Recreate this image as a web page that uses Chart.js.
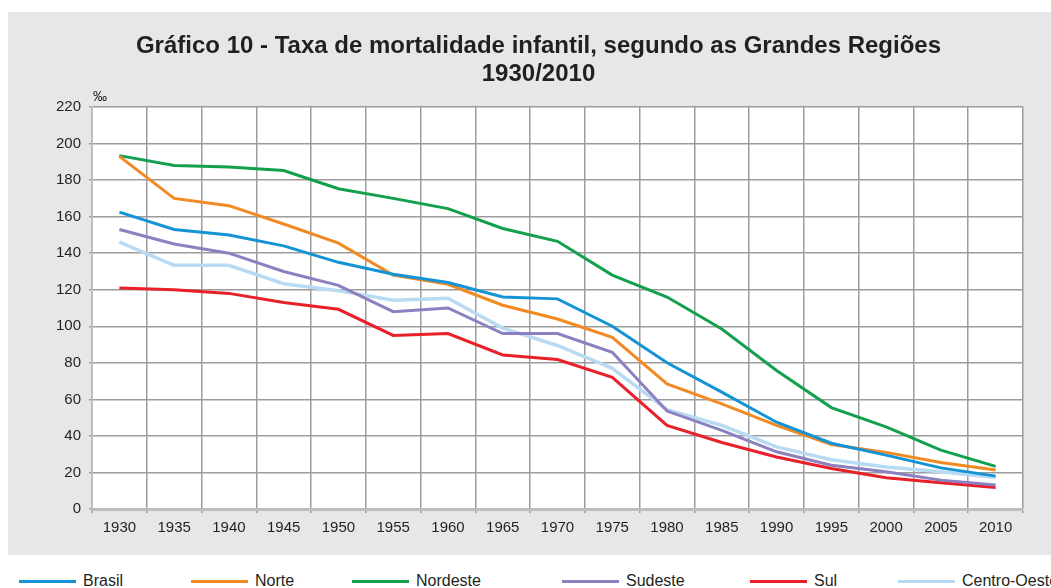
<!DOCTYPE html>
<html>
<head>
<meta charset="utf-8">
<script src="https://cdn.jsdelivr.net/npm/chart.js@4.4.1/dist/chart.umd.min.js"></script>
<style>
body{margin:0;background:#fff;overflow:hidden;width:1051px;height:588px;position:relative;font-family:"Liberation Sans",Arial,sans-serif;}
#panel{position:absolute;left:8px;top:12px;width:1061px;height:543px;background:#e6e7e8;}
.item{position:absolute;top:571px;height:20px;display:flex;align-items:center;font-size:16px;color:#231f20;white-space:nowrap;}
.item .sw{display:inline-block;width:57px;height:3px;margin-right:7px;}
</style>
</head>
<body>
<div id="panel"><canvas id="myChart" width="1061" height="543"></canvas></div>
<div id="legend"></div>
<script>
const years = ['1930','1935','1940','1945','1950','1955','1960','1965','1970','1975','1980','1985','1990','1995','2000','2005','2010'];
const brasil = [162.5,153,150,144,135,128.5,124,116,115,100,80,64,47.5,36,29.5,22.5,18];
const norte = [193,170,166,156,145.5,128,123,111.5,104,94,68.5,57.5,45.8,35.3,31,25.5,21.3];
const nordeste = [193.4,188,187.2,185.2,175.3,170,164.4,153.5,146.5,128,116,98.5,75.8,55.5,45,32.2,23.3];
const sudeste = [153,145,140,130,122.4,108,110,96,96,85.8,53.6,43,31.3,24,20.4,15.8,13.1];
const sul = [121,120,118,113,109.3,95,96,84.3,81.8,72,45.8,36.4,28.5,22.2,17.1,14.4,11.8];
const centroOeste = [146,133.4,133.4,123.3,119.5,114.2,115.3,99,89.5,77,54.4,45.8,34,27,23,20.4,17.3];

const seriesNames = ['Brasil','Norte','Nordeste','Sudeste','Sul','Centro-Oeste'];
const seriesColors = ['#1493d5','#f28a24','#13a04c','#8b80c0','#e8202a','#b8daf3'];
const seriesData = [brasil, norte, nordeste, sudeste, sul, centroOeste];

const fontFam = '"Liberation Sans", Arial, sans-serif';
const txt = '#231f20';

// white plot area + per mille unit label
const plotBg = {
	id: 'plotBg',
	beforeDraw(chart) {
		const a = chart.chartArea, c = chart.ctx;
		c.save();
		c.fillStyle = '#ffffff';
		c.fillRect(a.left, a.top, a.right - a.left, a.bottom - a.top);
		c.restore();
	},
	afterDraw(chart) {
		const a = chart.chartArea, c = chart.ctx;
		c.save();
		c.fillStyle = txt;
		c.font = '14px ' + fontFam;
		c.textBaseline = 'bottom';
		c.fillText('‰', a.left + 1, a.top - 3);
		c.restore();
	}
};

const datasets = [];
for (let i = 0; i < seriesNames.length; i++) {
	datasets.push({
		label: seriesNames[i],
		data: seriesData[i],
		borderColor: seriesColors[i],
		backgroundColor: seriesColors[i],
		borderWidth: i == 5 ? 3.5 : 3,
		pointRadius: 0,
		tension: 0,
		fill: false
	});
}

const ctx = document.getElementById('myChart');
const myChart = new Chart(ctx, {
	type: 'line',
	data: { labels: years, datasets: datasets },
	plugins: [plotBg],
	options: {
		responsive: false,
		animation: false,
		layout: { padding: { left: 46, right: 46, top: 0, bottom: 0 } },
		plugins: {
			legend: { display: false },
			tooltip: { enabled: false },
			title: {
				display: true,
				text: ['Gráfico 10 - Taxa de mortalidade infantil, segundo as Grandes Regiões', '1930/2010'],
				color: txt,
				font: { family: fontFam, size: 24, weight: 'bold', lineHeight: 1.167 },
				padding: { top: 20, bottom: 19 }
			}
		},
		scales: {
			x: {
				offset: true,
				grid: { offset: true, color: '#9c9c9c', lineWidth: 1.5, tickLength: 4 },
				border: { color: '#bdbdbd', width: 3 },
				ticks: { color: txt, font: { family: fontFam, size: 15 }, padding: 6, maxRotation: 0, autoSkip: false },
				afterFit: function (s) { s.height = 46; }
			},
			y: {
				min: 0,
				max: 220,
				ticks: { stepSize: 20, color: txt, font: { family: fontFam, size: 15 }, padding: 8 },
				grid: { color: '#9c9c9c', lineWidth: 1.5, tickLength: 3 },
				border: { color: '#bdbdbd', width: 2 },
				afterFit: function (s) { s.width = 38; }
			}
		}
	}
});

// legend below the panel
const legendLeft = [19, 191, 352, 562, 750, 898];
const lg = document.getElementById('legend');
for (let i = 0; i < seriesNames.length; i++) {
	const d = document.createElement('div');
	d.className = 'item';
	d.style.left = legendLeft[i] + 'px';
	d.innerHTML = '<span class="sw" style="background:' + seriesColors[i] + '"></span>' + seriesNames[i];
	lg.appendChild(d);
}
</script>
</body>
</html>
